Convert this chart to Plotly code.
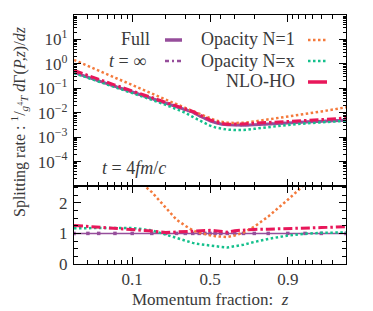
import numpy as np
import plotly.graph_objects as go

# ---------------- data ----------------
z = [0.03, 0.04, 0.05, 0.07, 0.1, 0.15, 0.2, 0.25, 0.3, 0.35, 0.4, 0.45,
     0.5, 0.55, 0.6, 0.65, 0.7, 0.75, 0.8, 0.85, 0.9, 0.93, 0.95, 0.97]

full = [0.447, 0.282, 0.200, 0.120, 0.0708, 0.0380, 0.0251, 0.0178, 0.0135, 0.0105,
        0.00759, 0.00575, 0.00468, 0.00398, 0.00347, 0.00324, 0.00309, 0.00309,
        0.00324, 0.00355, 0.00380, 0.00417, 0.00447, 0.00490]
t_inf = [0.440, 0.280, 0.198, 0.119, 0.0700, 0.0376, 0.0249, 0.0177, 0.0134, 0.0104,
         0.00750, 0.00570, 0.00465, 0.00396, 0.00346, 0.00323, 0.00308, 0.00309,
         0.00325, 0.00356, 0.00382, 0.00420, 0.00450, 0.00490]
opacity_n1 = [1.445, 0.813, 0.525, 0.275, 0.135, 0.0617, 0.0347, 0.0224, 0.0158, 0.0117,
              0.00912, 0.00724, 0.00589, 0.00490, 0.00427, 0.00389, 0.00380, 0.00389,
              0.00437, 0.00525, 0.00676, 0.00851, 0.0112, 0.0166]
opacity_nx = [0.417, 0.269, 0.191, 0.115, 0.0661, 0.0339, 0.0209, 0.0138, 0.0100, 0.00676,
              0.00490, 0.00372, 0.00295, 0.00251, 0.00224, 0.00204, 0.00195, 0.00195,
              0.00219, 0.00257, 0.00316, 0.00363, 0.00398, 0.00468]
nlo_ho = [0.537, 0.331, 0.229, 0.135, 0.0776, 0.0407, 0.0257, 0.0186, 0.0145, 0.0112,
          0.00832, 0.00631, 0.00513, 0.00437, 0.00372, 0.00339, 0.00339, 0.00347,
          0.00372, 0.00407, 0.00437, 0.00479, 0.00525, 0.00603]

ratio_tinf = [1.0, 1.0, 1.0, 1.0, 1.0, 1.0, 1.0, 1.0, 1.0, 1.0, 1.0, 1.0,
              1.0, 1.0, 1.0, 1.0, 1.0, 1.0, 1.0, 1.0, 1.0, 1.0, 1.0, 1.0]
ratio_nlo = [1.26, 1.23, 1.21, 1.18, 1.14, 1.08, 1.03, 1.05, 1.07, 1.09, 1.10, 1.10,
             1.10, 1.09, 1.07, 1.04, 1.09, 1.11, 1.13, 1.14, 1.15, 1.17, 1.19, 1.22]
ratio_nx = [1.17, 1.17, 1.17, 1.18, 1.18, 1.10, 0.96, 0.84, 0.75, 0.69, 0.65, 0.62,
            0.60, 0.58, 0.56, 0.54, 0.57, 0.63, 0.72, 0.82, 0.93, 0.99, 1.02, 1.03]
ratio_n1 = [3.5, 3.4, 3.3, 3.1, 2.9, 2.35, 1.85, 1.45, 1.25, 1.10, 1.02, 0.97,
            0.94, 0.91, 0.89, 0.88, 0.93, 1.03, 1.22, 1.55, 2.1, 2.6, 3.1, 3.6]

x_major = [0.1, 0.5, 0.9]
x_major_text = ["0.1", "0.5", "0.9"]
x_minor = [0.04, 0.05, 0.06, 0.07, 0.08, 0.09, 0.2, 0.3, 0.4, 0.6, 0.7, 0.8,
           0.91, 0.92, 0.93, 0.94, 0.95, 0.96]
x_range = [0.03, 0.97]
y_main_ticks = [1e2, 1e1, 1e0, 1e-1, 1e-2, 1e-3, 1e-4]
y_main_text = ["10<sup>2</sup>", "10<sup>1</sup>", "10<sup>0</sup>", "10<sup>−1</sup>",
               "10<sup>−2</sup>", "10<sup>−3</sup>", "10<sup>−4</sup>"]
y_ratio_ticks = [0, 1, 2]


# symmetric log scale around z = 1/2 (log near 0 and near 1)
def sx(v):
    v = np.asarray(v, dtype=float)
    return np.where(v < 0.5, np.log(2 * v), -np.log(2 * (1 - v)))


X = sx(z)

PURPLE = "#964e9b"
ORANGE = "#f47a3c"
GREEN = "#14c08c"
RED = "#e8175a"
FONT = "'Liberation Serif', 'Times New Roman', Tinos, 'DejaVu Serif', serif"
TXT = "#3a3a3a"

DOT = "2.5px,2.5px"
DASHDOT = "9px,3px,2.5px,3px"
PDASHDOT = "4px,3px,2px,3px"

fig = go.Figure()

# ---- main panel ----
fig.add_trace(go.Scatter(x=X, y=full, xaxis="x2", yaxis="y2", mode="lines",
                         line=dict(color=PURPLE, width=3), showlegend=False))
fig.add_trace(go.Scatter(x=X, y=t_inf, xaxis="x2", yaxis="y2", mode="lines",
                         line=dict(color=PURPLE, width=2.5, dash=PDASHDOT), showlegend=False))
fig.add_trace(go.Scatter(x=X, y=opacity_n1, xaxis="x2", yaxis="y2", mode="lines",
                         line=dict(color=ORANGE, width=2.5, dash=DOT), showlegend=False))
fig.add_trace(go.Scatter(x=X, y=opacity_nx, xaxis="x2", yaxis="y2", mode="lines",
                         line=dict(color=GREEN, width=2.5, dash=DOT), showlegend=False))
fig.add_trace(go.Scatter(x=X, y=nlo_ho, xaxis="x2", yaxis="y2", mode="lines",
                         line=dict(color=RED, width=3, dash=DASHDOT), showlegend=False))

# ---- ratio panel ----
fig.add_trace(go.Scatter(x=X, y=ratio_tinf, xaxis="x", yaxis="y", mode="lines+markers",
                         line=dict(color=PURPLE, width=1.5),
                         marker=dict(symbol="square", size=3.5, color=PURPLE),
                         showlegend=False))
fig.add_trace(go.Scatter(x=X, y=ratio_n1, xaxis="x", yaxis="y", mode="lines",
                         line=dict(color=ORANGE, width=2.5, dash=DOT), showlegend=False))
fig.add_trace(go.Scatter(x=X, y=ratio_nx, xaxis="x", yaxis="y", mode="lines",
                         line=dict(color=GREEN, width=2.5, dash=DOT), showlegend=False))
fig.add_trace(go.Scatter(x=X, y=ratio_nlo, xaxis="x", yaxis="y", mode="lines",
                         line=dict(color=RED, width=3, dash=DASHDOT), showlegend=False))

# geometry: the page body adds an 8px offset, so the figure is 8px smaller
OFF = 8
W, H = 373 - OFF, 311 - OFF
L, R, T, B = 74 - OFF, 27, 15 - OFF, 47
PW, PH = W - L - R, H - T - B
split = (264 - 186) / PH

axis_common = dict(showline=True, linecolor="black", linewidth=1.3, mirror="allticks",
                   ticks="inside", tickcolor="black", showgrid=False, zeroline=False)

xcommon = dict(range=list(sx(x_range)), tickmode="array", tickvals=list(sx(x_major)),
               ticklen=7, tickwidth=1,
               minor=dict(tickmode="array", tickvals=list(sx(x_minor)), ticks="inside",
                          ticklen=4, tickcolor="black", tickwidth=1, showgrid=False),
               **axis_common)

fig.update_layout(
    width=W, height=H,
    margin=dict(l=L, r=R, t=T, b=B, pad=0),
    paper_bgcolor="white", plot_bgcolor="white",
    font=dict(family=FONT, size=16, color=TXT),
    xaxis=dict(domain=[0, 1], anchor="y", ticktext=x_major_text, ticklabelstandoff=-1,
               tickfont=dict(family=FONT, size=17, color=TXT), **xcommon),
    xaxis2=dict(domain=[0, 1], anchor="y2", matches="x", showticklabels=False, **xcommon),
    yaxis=dict(domain=[0, split], anchor="x", range=[0, 2.55], tickmode="array",
               tickvals=y_ratio_ticks, ticklen=7, tickwidth=1, ticklabelstandoff=2,
               tickfont=dict(family=FONT, size=17, color=TXT),
               minor=dict(dtick=0.25, ticks="inside", ticklen=4, tickcolor="black",
                          showgrid=False),
               **axis_common),
    yaxis2=dict(domain=[split, 1], anchor="x2", type="log", range=[-5, 2],
                tickmode="array", tickvals=y_main_ticks, ticktext=y_main_text,
                ticklen=7, tickwidth=1, ticklabelstandoff=2,
                tickfont=dict(family=FONT, size=17, color=TXT),
                minor=dict(tickmode="array",
                           tickvals=[m * 10.0 ** e for e in range(-5, 2) for m in range(2, 10)],
                           ticks="inside", ticklen=3, tickcolor="black", showgrid=False),
                **axis_common),
)


# page pixel -> paper coordinates
def px(xp):
    return (xp - OFF - L) / PW


def py(yp):
    return (H - B - (yp - OFF)) / PH


ann = []
shapes = []
# legend (gnuplot-like: text then sample)
legend_items = [
    ("Full", 152, 39, 165, 182, 40, PURPLE, 3.5, "solid"),
    ("<i>t</i> = ∞", 148, 61, 165, 182, 61, PURPLE, 2.5, PDASHDOT),
    ("Opacity N=1", 297, 39, 308, 327, 40, ORANGE, 2.5, DOT),
    ("Opacity N=x", 297, 61, 308, 327, 61, GREEN, 2.5, DOT),
    ("NLO-HO", 297, 81, 308, 327, 82, RED, 3.5, "solid"),
]
for text, tx, ty, x0, x1, yy, col, w, dash in legend_items:
    ann.append(dict(text=text, x=px(tx), y=py(ty), xref="paper", yref="paper",
                    xanchor="right", yanchor="middle", showarrow=False,
                    font=dict(family=FONT, size=18, color=TXT)))
    shapes.append(dict(type="line", xref="paper", yref="paper", x0=px(x0), x1=px(x1),
                       y0=py(yy), y1=py(yy), line=dict(color=col, width=w, dash=dash)))

ann.append(dict(text="<i>t</i> = 4<i>fm</i>/<i>c</i>", x=px(100), y=py(168), xref="paper",
                yref="paper", xanchor="left", yanchor="middle", showarrow=False,
                font=dict(family=FONT, size=18, color=TXT)))
ann.append(dict(text="Momentum fraction:  <i>z</i>", x=px(210), y=py(299), xref="paper",
                yref="paper", xanchor="center", yanchor="middle", showarrow=False,
                font=dict(family=FONT, size=17, color=TXT)))
ann.append(dict(text="Splitting rate : <sup>1</sup>/<sub><i>g</i><sup>4</sup><i>T</i></sub> "
                     "<i>d</i>Γ(<i>P,z</i>)/<i>dz</i>",
                x=px(19), y=py(122), xref="paper", yref="paper", textangle=-90,
                xanchor="center", yanchor="middle", showarrow=False,
                font=dict(family=FONT, size=16, color=TXT)))

fig.update_layout(annotations=ann, shapes=shapes)

fig.write_html("out.html")
